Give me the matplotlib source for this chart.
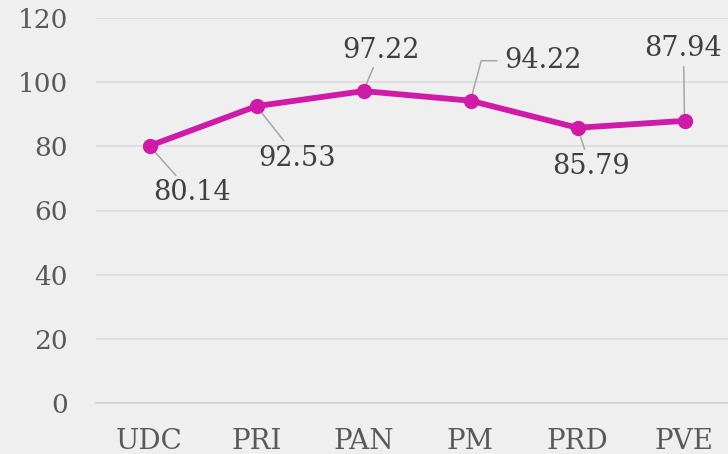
import matplotlib.pyplot as plt

# Party values
parties = ['UDC', 'PRI', 'PAN', 'PM', 'PRD', 'PVE']
values = [80.14, 92.53, 97.22, 94.22, 85.79, 87.94]
yticks = [0, 20, 40, 60, 80, 100, 120]

# label offsets in pixels (text centre relative to the point)
offsets = [(42, -47), (41, -52), (17, 41), (72, 40), (13, -39), (-1, 72)]

bg = '#efefef'
plt.rcParams['font.family'] = ['DejaVu Serif']

fig = plt.figure(figsize=(7.28, 4.54), dpi=100, facecolor=bg)
ax = fig.add_axes([96 / 728, 51 / 454, 642 / 728, 385 / 454], facecolor=bg)

x = list(range(len(parties)))
ax.plot(x, values, color='#d01aa8', linewidth=4.2, marker='o', markersize=10,
        solid_capstyle='round', zorder=3)

for i, (v, (dx, dy)) in enumerate(zip(values, offsets)):
    if i == 3:
        ax.annotate(f'{v:.2f}', xy=(i, v), xytext=(dx, dy), textcoords='offset pixels',
                    ha='center', va='center', fontsize=19.5, color='#404040',
                    arrowprops=dict(arrowstyle='-', color='#a6a6a6', lw=1.1,
                                    relpos=(0, 0.5), patchA=None, shrinkA=5, shrinkB=0,
                                    connectionstyle='angle,angleA=0,angleB=75,rad=0'),
                    zorder=2)
    else:
        ax.annotate(f'{v:.2f}', xy=(i, v), xytext=(dx, dy), textcoords='offset pixels',
                    ha='center', va='center', fontsize=19.5, color='#404040',
                    arrowprops=dict(arrowstyle='-', color='#a6a6a6', lw=1.1,
                                    shrinkA=1, shrinkB=0),
                    zorder=2)

ax.set_xlim(-0.5, 5.5)
ax.set_ylim(0, 120)
ax.set_xticks(x)
ax.set_xticklabels(parties)
ax.set_yticks(yticks)
ax.yaxis.grid(True, color='#d9d9d9', linewidth=1.1)
ax.set_axisbelow(True)
for s in ['top', 'right', 'left']:
    ax.spines[s].set_visible(False)
ax.spines['bottom'].set_color('#d0d0d0')
ax.spines['bottom'].set_linewidth(1.1)
ax.tick_params(axis='both', length=0, labelcolor='#595959')
ax.tick_params(axis='y', pad=20, labelsize=19)
ax.tick_params(axis='x', pad=18, labelsize=20)

plt.savefig('out.png', dpi=100, facecolor=bg)
